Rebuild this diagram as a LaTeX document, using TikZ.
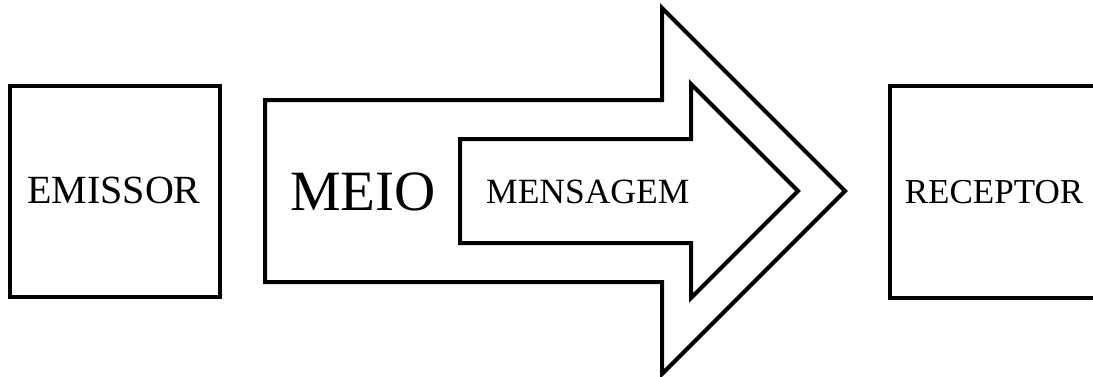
\documentclass[tikz,border=0pt]{standalone}
\usepackage{fontspec}
\setmainfont{Liberation Serif}
\begin{document}
\begin{tikzpicture}[x=1pt,y=-1pt,
  boxline/.style={draw=black,line width=4pt},
  arrline/.style={draw=black,line width=4pt,line join=miter,miter limit=10},
  lbl/.style={inner sep=0pt,anchor=base}]
\useasboundingbox (0,0) rectangle (1093,376);
\node[boxline,minimum width=210pt,minimum height=211pt,inner sep=0pt] (em) at (115,191.5) {};
\node[lbl,font=\fontsize{40}{40}\selectfont] (emt) at (114,203) {EMISSOR};
\draw[boxline] (890,86) coordinate (r1) rectangle (1110,298) coordinate (r2);
\node[lbl,font=\fontsize{35}{35}\selectfont] (rct) at (994,203) {RECEPTOR};
\draw[arrline] (265,100) -- (662,100) -- (662,8) -- (845,191) -- (662,374) -- (662,282) -- (265,282) -- cycle;
\draw[arrline] (460,139) -- (691,139) -- (691,84) -- (798,191) -- (691,298) -- (691,243) -- (460,243) -- cycle;
\node[lbl,anchor=base west,font=\fontsize{57}{57}\selectfont] (meio) at (290,210) {MEIO};
\node[lbl,anchor=base west,font=\fontsize{35.5}{35.5}\selectfont] (msg) at (486,203) {MENSAGEM};
\end{tikzpicture}
\end{document}
